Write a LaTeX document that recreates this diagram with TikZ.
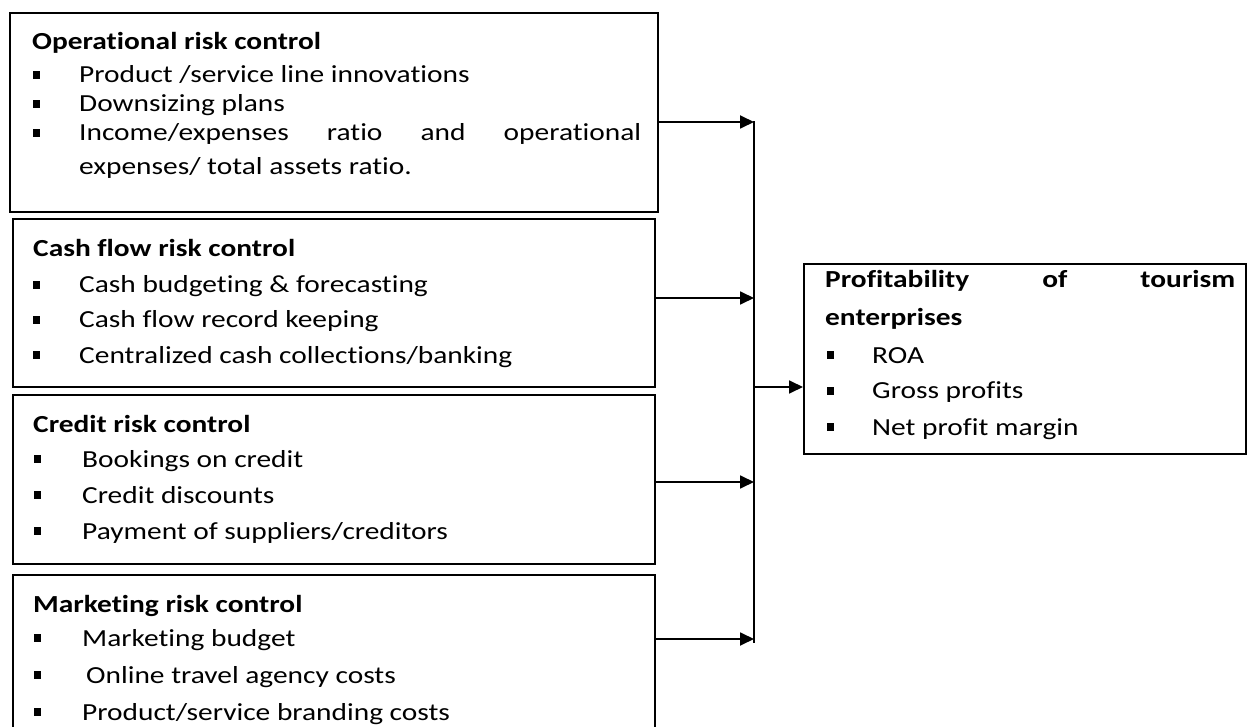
\documentclass[tikz,border=0pt]{standalone}
\usepackage{fontspec}
\setmainfont{Carlito}[FakeStretch=1.2, Ligatures=NoCommon]
\usetikzlibrary{arrows.meta}
% square list bullet followed by the item text
\newcommand\sqbul{\rule[4pt]{7pt}{7.8pt}}
\newcommand\bitem[2][46pt]{\makebox[#1][l]{\sqbul}#2}

\begin{document}
\begin{tikzpicture}[x=1pt,y=-1pt,
  panel/.style={draw, line width=1.8pt, fill=white, inner sep=0pt, anchor=north west},
  txt/.style={anchor=base west, inner sep=0pt, font=\fontsize{24.5}{28}\selectfont},
  head/.style={anchor=base west, inner sep=0pt, font=\fontsize{24.5}{28}\selectfont\bfseries},
  link/.style={line width=1.8pt},
  arr/.style={link, -{Triangle[length=14pt,width=13pt]}}]

\fill[white] (0,0) rectangle (1248,727);
\useasboundingbox (0,0) rectangle (1248,727);

% ---- panels ----
\node[panel, minimum width=648pt, minimum height=199pt] (op)   at (9,12)   {};
\node[panel, minimum width=642pt, minimum height=168pt] (cf)   at (12,218) {};
\node[panel, minimum width=642pt, minimum height=169pt] (cr)   at (12,394) {};
\node[panel, minimum width=642pt, minimum height=190pt] (mk)   at (12,574) {};
\node[panel, minimum width=442pt, minimum height=190pt] (prof) at (803,263) {};

% ---- operational risk ----
\node[head] (opH) at (32,50) {Operational risk control};
\node[txt] (op1) at (33,83) {\bitem{Product /service line innovations}};
\node[txt] (op2) at (33,112) {\bitem{Downsizing plans}};
\node[txt] (op3) at (33,141) {\bitem{\hbox to 562pt{Income/expenses\hfill ratio\hfill and\hfill operational}}};
\node[txt] (op4) at (79,175) {expenses/ total assets ratio.};

% ---- cash flow risk ----
\node[head] (cfH) at (33,257) {Cash flow risk control};
\node[txt] (cf1) at (33,293) {\bitem{Cash budgeting \& forecasting}};
\node[txt] (cf2) at (33,328) {\bitem{Cash flow record keeping}};
\node[txt] (cf3) at (33,363) {\bitem{Centralized cash collections/banking}};

% ---- credit risk ----
\node[head] (crH) at (33,432) {Credit risk control};
\node[txt] (cr1) at (34,467) {\bitem[48pt]{Bookings on credit}};
\node[txt] (cr2) at (34,503) {\bitem[48pt]{Credit discounts}};
\node[txt] (cr3) at (34,539) {\bitem[48pt]{Payment of suppliers/creditors}};

% ---- marketing risk ----
\node[head] (mkH) at (33,612) {Marketing risk control};
\node[txt] (mk1) at (34,646) {\bitem[48pt]{Marketing budget}};
\node[txt] (mk2) at (34,683) {\bitem[52pt]{Online travel agency costs}};
\node[txt] (mk3) at (34,720) {\bitem[48pt]{Product/service branding costs}};

% ---- profitability ----
\node[head] (prH1) at (825,288) {\hbox to 410pt{Profitability\hfill of\hfill tourism}};
\node[head] (prH2) at (825,326) {enterprises};
\node[txt] (pr1) at (827,363) {\bitem[45pt]{ROA}};
\node[txt] (pr2) at (827,399) {\bitem[45pt]{Gross profits}};
\node[txt] (pr3) at (827,435) {\bitem[45pt]{Net profit margin}};

% ---- connectors ----
\coordinate (jtop) at (754,121.1);
\coordinate (j1) at (754,122);
\coordinate (j2) at (754,298);
\coordinate (j3) at (754,482);
\coordinate (j4) at (754,639);
\coordinate (jend) at (754,643);
\coordinate (jm) at (754,387);

\draw[arr] (op.east |- j1) -- (j1);
\draw[arr] (cf.east |- j2) -- (j2);
\draw[arr] (cr.east |- j3) -- (j3);
\draw[arr] (mk.east |- j4) -- (j4);
\draw[link] (jtop) -- (jend);
\draw[arr] (jm) -- (prof.west |- jm);
\end{tikzpicture}
\end{document}
